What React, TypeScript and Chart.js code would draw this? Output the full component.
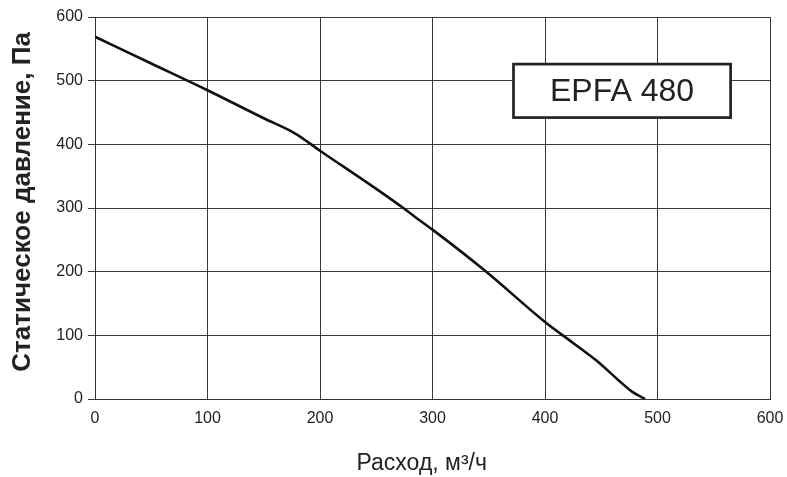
import React, { useEffect, useRef } from "react";
import { Chart, registerables } from "chart.js";

Chart.register(...registerables);

// Flow rate, m³/h
const flowValues = [0, 50, 100, 150, 178, 200, 250, 274, 286, 300, 347, 400, 425, 446, 465, 477, 489];
// Static pressure, Pa
const pressureValues = [569, 527, 485, 441, 417, 390, 330, 300, 284, 266, 201, 121, 88, 60, 30, 12, 0];

const xTicks = [0, 100, 200, 300, 400, 500, 600];
const yTicks = [0, 100, 200, 300, 400, 500, 600];

const modelLabel = "EPFA 480";
const xTitle = "Расход, м³/ч";
const yTitle = "Статическое давление, Па";

const FONT = "'Liberation Sans', Arial, Helvetica, sans-serif";

const labelBoxPlugin = {
  id: "labelBox",
  afterDraw(chart: any) {
    const { ctx, scales, chartArea } = chart;
    const xs = scales.x;
    const ys = scales.y;
    const x1 = xs.getPixelForValue(372);
    const x2 = xs.getPixelForValue(565);
    const y1 = ys.getPixelForValue(526);
    const y2 = ys.getPixelForValue(442);
    ctx.save();
    ctx.fillStyle = "#ffffff";
    ctx.fillRect(x1, y1, x2 - x1, y2 - y1);
    ctx.lineWidth = 2.7;
    ctx.strokeStyle = "#222222";
    ctx.strokeRect(x1, y1, x2 - x1, y2 - y1);
    ctx.fillStyle = "#222222";
    ctx.font = `32px ${FONT}`;
    ctx.textAlign = "center";
    ctx.textBaseline = "middle";
    ctx.fillText(modelLabel, (x1 + x2) / 2, (y1 + y2) / 2 + 1);

    // axis titles
    ctx.font = `23px ${FONT}`;
    ctx.fillText(xTitle, chartArea.left + chartArea.width * 0.484, chart.height - 13);
    ctx.save();
    ctx.translate(23, chartArea.top + chartArea.height * 0.484);
    ctx.rotate(-Math.PI / 2);
    ctx.font = `bold 26px ${FONT}`;
    ctx.fillText(yTitle, 0, 0);
    ctx.restore();
    ctx.restore();
  },
};

export default function App() {
  const canvasRef = useRef<HTMLCanvasElement | null>(null);

  useEffect(() => {
    if (!canvasRef.current) return;
    const points = flowValues.map((x, i) => ({ x, y: pressureValues[i] }));
    const chart = new Chart(canvasRef.current, {
      type: "line",
      data: {
        datasets: [
          {
            data: points,
            borderColor: "#111111",
            borderWidth: 2.6,
            pointRadius: 0,
            cubicInterpolationMode: "monotone",
            fill: false,
          },
        ],
      },
      options: {
        responsive: false,
        animation: false,
        devicePixelRatio: 1,
        layout: { padding: { top: 17, right: 17, left: 0, bottom: 0 } },
        plugins: {
          legend: { display: false },
          tooltip: { enabled: false },
        },
        scales: {
          x: {
            type: "linear",
            min: 0,
            max: 600,
            afterBuildTicks(scale: any) {
              scale.ticks = xTicks.map((v) => ({ value: v }));
            },
            afterFit(scale: any) {
              scale.height = 78;
              scale.paddingRight = 0;
              scale.paddingLeft = 0;
            },
            grid: { color: "#3a3a3a", lineWidth: 1, drawTicks: false },
            border: { color: "#333333", width: 1 },
            ticks: {
              color: "#222222",
              padding: 10,
              maxRotation: 0,
              font: { family: FONT, size: 16 },
            },
            title: { display: false },
          },
          y: {
            type: "linear",
            min: 0,
            max: 600,
            afterBuildTicks(scale: any) {
              scale.ticks = yTicks.map((v) => ({ value: v }));
            },
            afterFit(scale: any) {
              scale.width = 95;
              scale.paddingTop = 0;
              scale.paddingBottom = 0;
            },
            grid: { color: "#3a3a3a", lineWidth: 1, tickLength: 7, drawTicks: true },
            border: { color: "#333333", width: 1 },
            ticks: {
              color: "#222222",
              padding: 5,
              font: { family: FONT, size: 16 },
            },
            title: { display: false },
          },
        },
      },
      plugins: [labelBoxPlugin],
    });
    return () => chart.destroy();
  }, []);

  return (
    <div
      style={{
        position: "fixed",
        left: 0,
        top: 0,
        width: 787,
        height: 477,
        background: "#ffffff",
      }}
    >
      <canvas ref={canvasRef} width={787} height={477} style={{ width: 787, height: 477 }} />
    </div>
  );
}
